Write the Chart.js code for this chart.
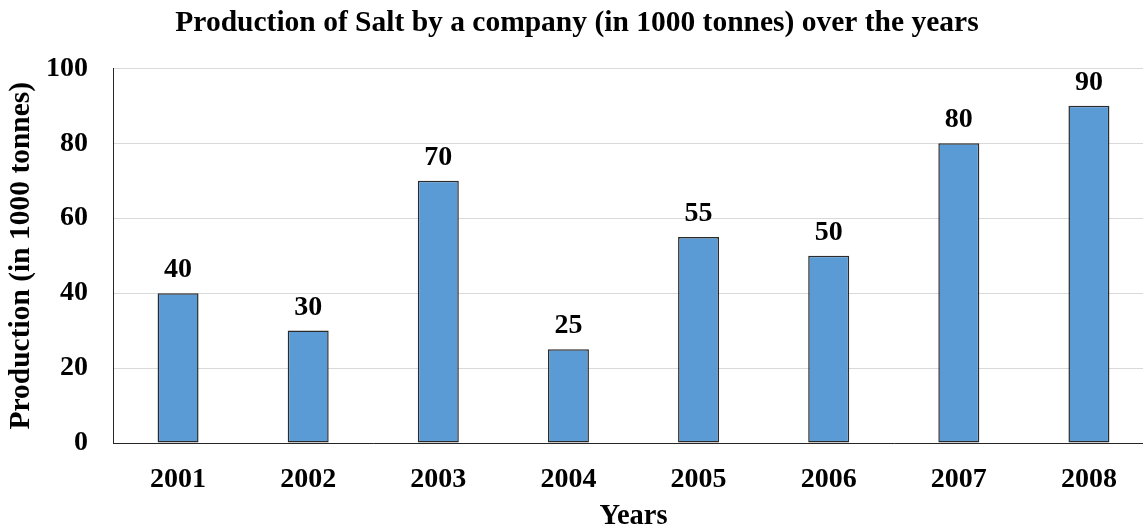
<!DOCTYPE html>
<html>
<head>
<meta charset="utf-8">
<script src="https://cdn.jsdelivr.net/npm/chart.js@4"></script>
<style>
  html, body { margin: 0; padding: 0; background: #fff; overflow: hidden; }
  canvas { display: block; }
</style>
</head>
<body>
<canvas id="saltChart" width="1162" height="531"></canvas>
<script>
// Salt production per year, thousands of tonnes
const years = ['2001', '2002', '2003', '2004', '2005', '2006', '2007', '2008'];
const production = [40, 30, 70, 25, 55, 50, 80, 90];
const yTicks = [0, 20, 40, 60, 80, 100];

const serif = '"Liberation Serif", "Times New Roman", serif';

// Value printed above each bar
const barValues = {
    id: 'barValues',
    afterDatasetsDraw(chart) {
        const ctx = chart.ctx;
        const meta = chart.getDatasetMeta(0);
        ctx.save();
        ctx.font = 'bold 28px ' + serif;
        ctx.fillStyle = '#000';
        ctx.textAlign = 'center';
        ctx.textBaseline = 'alphabetic';
        meta.data.forEach((bar, i) => {
            ctx.fillText(String(production[i]), bar.x, bar.y - 16);
        });
        ctx.restore();
    }
};

new Chart(document.getElementById('saltChart'), {
    type: 'bar',
    data: {
        labels: years,
        datasets: [{
            data: production,
            backgroundColor: '#5b9bd5',
            borderColor: '#2b2b2b',
            borderWidth: 1.5,
            borderSkipped: false,
            barPercentage: 0.315,
            categoryPercentage: 1
        }]
    },
    options: {
        responsive: false,
        animation: false,
        layout: { padding: { left: 0, right: 8, top: 0, bottom: 0 } },
        plugins: {
            legend: { display: false },
            tooltip: { enabled: false },
            title: {
                display: true,
                text: 'Production of Salt by a company (in 1000 tonnes) over the years',
                color: '#000',
                font: { family: serif, size: 29.5, weight: 'bold', lineHeight: 1.2 },
                padding: { top: 6, bottom: 27 }
            }
        },
        scales: {
            x: {
                grid: { display: false, drawTicks: false },
                border: { color: '#262626', width: 1 },
                ticks: {
                    color: '#000',
                    padding: 20,
                    font: { family: serif, size: 28, weight: 'bold' }
                },
                title: {
                    display: true,
                    text: 'Years',
                    color: '#000',
                    font: { family: serif, size: 28.5, weight: 'bold', lineHeight: 1 },
                    padding: { top: 0, bottom: 0 }
                },
                afterFit(scale) { scale.height = 88; }
            },
            y: {
                min: 0,
                max: 100,
                afterBuildTicks(scale) {
                    scale.ticks = yTicks.map(v => ({ value: v }));
                },
                grid: { color: '#d9d9d9', lineWidth: 1, drawTicks: false },
                border: { color: '#262626', width: 1 },
                ticks: {
                    color: '#000',
                    padding: 25,
                    font: { family: serif, size: 28, weight: 'bold' }
                },
                title: {
                    display: true,
                    text: 'Production (in 1000 tonnes)',
                    color: '#000',
                    font: { family: serif, size: 29.5, weight: 'bold', lineHeight: 1 },
                    padding: { top: 7, bottom: 0 }
                },
                afterFit(scale) { scale.width = 113; }
            }
        }
    },
    plugins: [barValues]
});
</script>
</body>
</html>
